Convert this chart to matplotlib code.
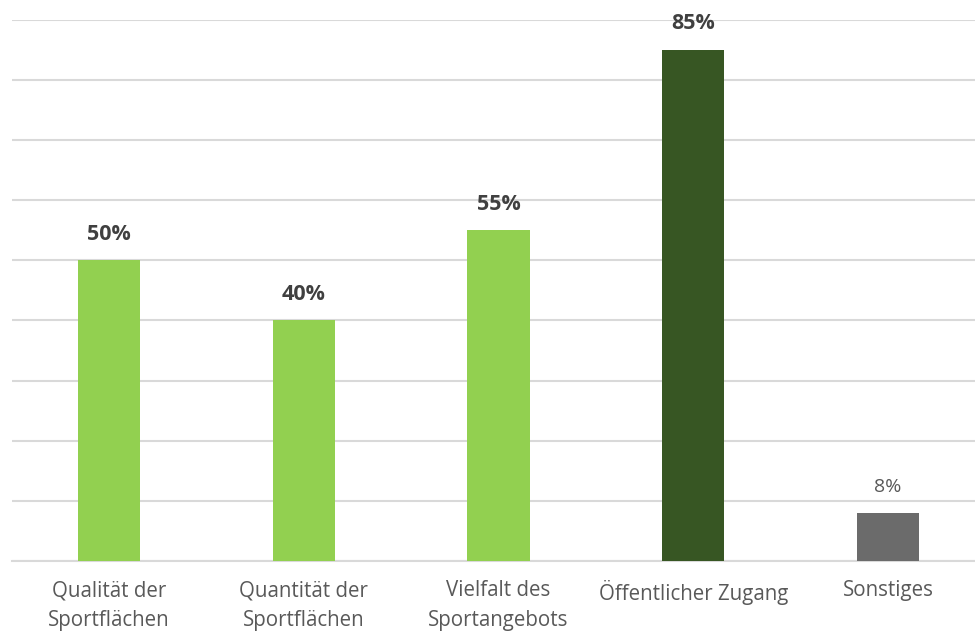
import matplotlib
matplotlib.use("Agg")
import matplotlib.pyplot as plt

categories = ["Qualität der\nSportflächen", "Quantität der\nSportflächen",
              "Vielfalt des\nSportangebots", "Öffentlicher Zugang", "Sonstiges"]
values = [50, 40, 55, 85, 8]
labels = ["50%", "40%", "55%", "85%", "8%"]
bar_colors = ["#92D050", "#92D050", "#92D050", "#375623", "#6B6B6B"]
bold_label = [True, True, True, True, False]

plt.rcParams["font.family"] = ["Open Sans", "DejaVu Sans"]

fig = plt.figure(figsize=(9.75, 6.33), dpi=100)
ax = fig.add_axes([11.6 / 975, 72 / 633, 973.8 / 975, 541.5 / 633])

x = range(len(categories))
ax.bar(x, values, width=0.32, color=bar_colors, zorder=3)

for i, v in enumerate(values):
    ax.annotate(labels[i], (i, v), xytext=(0, 18.5), textcoords="offset points",
                ha="center", va="center",
                fontsize=15.5 if bold_label[i] else 14,
                fontweight="bold" if bold_label[i] else "normal",
                color="#404040" if bold_label[i] else "#595959")

ax.set_xlim(-0.5, 4.5)
ax.set_ylim(0, 90)
ax.set_yticks(range(0, 91, 10))
ax.yaxis.grid(True, color="#D9D9D9", linewidth=1.5, zorder=0)
ax.tick_params(axis="y", left=False, labelleft=False)
ax.tick_params(axis="x", length=0, pad=14)
ax.set_xticks(list(x))
ax.set_xticklabels(categories, fontsize=14.8, color="#595959", linespacing=1.55)
for s in ["top", "right", "left"]:
    ax.spines[s].set_visible(False)
ax.spines["bottom"].set_color("#D9D9D9")
ax.spines["bottom"].set_linewidth(1.5)

fig.savefig("out.png", dpi=100)
